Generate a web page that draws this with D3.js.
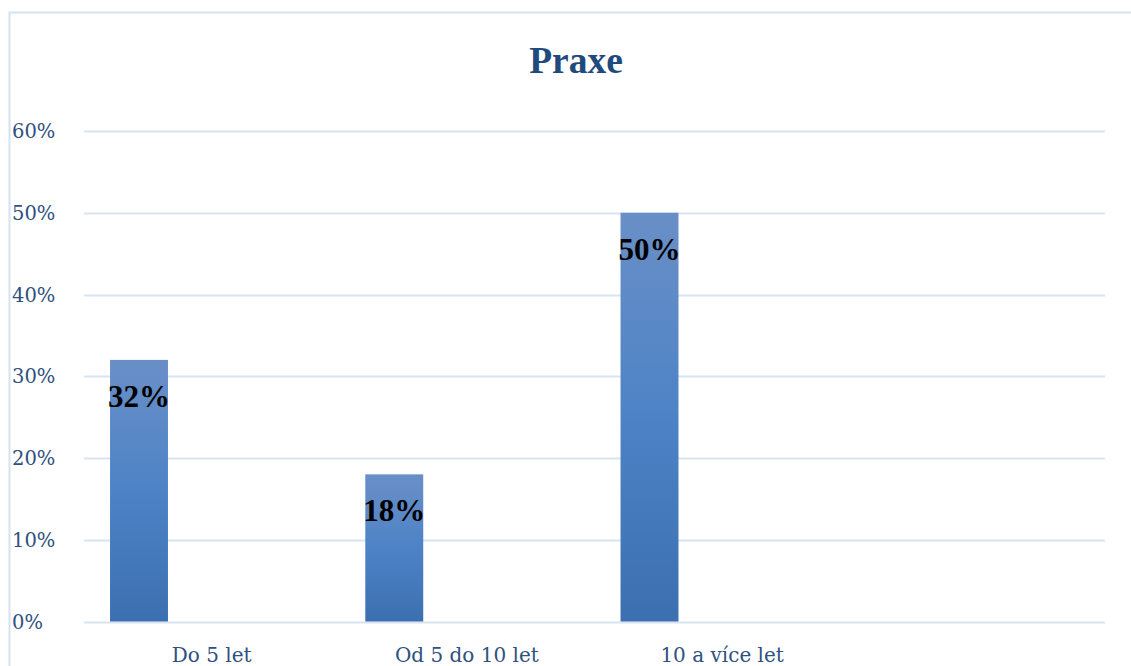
<!DOCTYPE html>
<html>
<head>
<meta charset="utf-8">
<script src="https://cdn.jsdelivr.net/npm/d3@7"></script>
<style>
  html, body { margin: 0; padding: 0; background: #fff; }
  svg { display: block; }
</style>
</head>
<body>
<svg id="chart" width="1131" height="666"></svg>
<script>
// Praxe – share of respondents by length of practice
const categories = ["Do 5 let", "Od 5 do 10 let", "10 a více let", ""];
const values = [0.32, 0.18, 0.50, null];
const yTicks = [0, 0.1, 0.2, 0.3, 0.4, 0.5, 0.6];
const title = "Praxe";

const svg = d3.select("#chart");
const serif = "'DejaVu Serif', 'Liberation Serif', serif";
const serifBold = "'Liberation Serif', 'DejaVu Serif', serif";
const axisColor = "#2F5180";
const gridColor = "#D9E4F2";

// outer chart frame
svg.append("rect")
  .attr("x", 9.5).attr("y", 12.5)
  .attr("width", 1140).attr("height", 680)
  .attr("fill", "#fff")
  .attr("stroke", "#D6E2F2").attr("stroke-width", 2);

const plot = { left: 84, right: 1105, top: 131, bottom: 621.5 };

const x = d3.scaleBand()
  .domain(d3.range(categories.length))
  .range([plot.left, plot.right])
  .paddingInner(0).paddingOuter(0);

const y = d3.scaleLinear()
  .domain([0, 0.6])
  .range([plot.bottom, plot.top]);

// bar gradient
const defs = svg.append("defs");
const grad = defs.append("linearGradient")
  .attr("id", "barGrad")
  .attr("x1", 0).attr("y1", 0).attr("x2", 0).attr("y2", 1);
grad.append("stop").attr("offset", "0%").attr("stop-color", "#6A8FC7");
grad.append("stop").attr("offset", "50%").attr("stop-color", "#4D83C6");
grad.append("stop").attr("offset", "100%").attr("stop-color", "#3B6FB0");

// gridlines
svg.append("g")
  .selectAll("line")
  .data(yTicks)
  .join("line")
  .attr("x1", plot.left).attr("x2", plot.right)
  .attr("y1", d => Math.round(y(d)) + 0.5)
  .attr("y2", d => Math.round(y(d)) + 0.5)
  .attr("stroke", gridColor).attr("stroke-width", 2);

// y axis labels
const fmt = d3.format(".0%");
svg.append("g")
  .selectAll("text")
  .data(yTicks)
  .join("text")
  .attr("x", 12)
  .attr("y", d => y(d))
  .attr("dy", "0.36em")
  .attr("font-family", serif)
  .attr("font-size", 19.5)
  .attr("fill", axisColor)
  .text(d => fmt(d));

// bars (first series slot within each category band)
const barOffset = 0.102, barWidth = 0.227;
const barData = values.map((v, i) => ({ i, v })).filter(d => d.v != null);

svg.append("g")
  .selectAll("rect")
  .data(barData)
  .join("rect")
  .attr("x", d => x(d.i) + x.bandwidth() * barOffset)
  .attr("width", x.bandwidth() * barWidth)
  .attr("y", d => y(d.v))
  .attr("height", d => y(0) - y(d.v))
  .attr("fill", "url(#barGrad)");

// value labels
svg.append("g")
  .selectAll("text")
  .data(barData)
  .join("text")
  .attr("x", d => x(d.i) + x.bandwidth() * (barOffset + barWidth / 2))
  .attr("y", d => y(d.v) + 47)
  .attr("text-anchor", "middle")
  .attr("font-family", serifBold)
  .attr("font-weight", "bold")
  .attr("font-size", 31)
  .attr("fill", "#000")
  .text(d => fmt(d.v));

// category labels
svg.append("g")
  .selectAll("text")
  .data(categories)
  .join("text")
  .attr("x", (d, i) => x(i) + x.bandwidth() / 2)
  .attr("y", 662)
  .attr("text-anchor", "middle")
  .attr("font-family", serif)
  .attr("font-size", 20)
  .attr("fill", axisColor)
  .text(d => d);

// title
svg.append("text")
  .attr("x", 576)
  .attr("y", 73)
  .attr("text-anchor", "middle")
  .attr("font-family", serifBold)
  .attr("font-weight", "bold")
  .attr("font-size", 37.5)
  .attr("fill", "#1F4A7E")
  .text(title);
</script>
</body>
</html>
